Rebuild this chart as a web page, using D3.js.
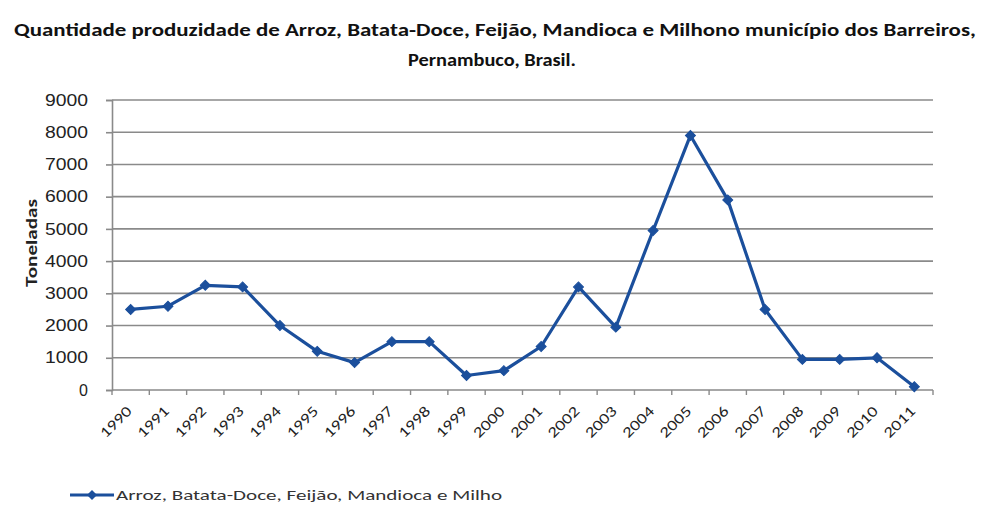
<!DOCTYPE html>
<html>
<head>
<meta charset="utf-8">
<script src="https://cdn.jsdelivr.net/npm/d3@7/dist/d3.min.js"></script>
<style>
  html, body { margin: 0; padding: 0; background: #fff; }
  svg { display: block; font-family: Carlito, "Liberation Sans Narrow", "Liberation Sans", sans-serif; }
</style>
</head>
<body>
<svg id="chart" width="985" height="508"></svg>
<script>
// --- data ---
const years = ["1990","1991","1992","1993","1994","1995","1996","1997","1998","1999","2000",
               "2001","2002","2003","2004","2005","2006","2007","2008","2009","2010","2011"];
const toneladas = [2500, 2600, 3250, 3200, 2000, 1200, 850, 1500, 1500, 450, 600,
                   1350, 3200, 1950, 4950, 7900, 5900, 2500, 950, 950, 1000, 100];
const yTicks = [0, 1000, 2000, 3000, 4000, 5000, 6000, 7000, 8000, 9000];
const titleLines = [
  "Quantidade produzidade de Arroz, Batata-Doce, Feijão, Mandioca e Milhono município dos Barreiros,",
  "Pernambuco, Brasil."
];
const seriesName = "Arroz, Batata-Doce, Feijão, Mandioca e Milho";

const svg = d3.select("#chart");
const margin = { top: 100, right: 52, bottom: 118, left: 112 };
const W = 985, H = 508;
const lineColor = "#1b4f9c";
const gridColor = "#8a8a8a";

const x = d3.scaleBand().domain(years).range([margin.left, W - margin.right]);
const y = d3.scaleLinear().domain([0, 9000]).range([H - margin.bottom, margin.top]);

// title
svg.append("g").selectAll("text")
  .data(titleLines)
  .enter().append("text")
  .attr("x", (d, i) => i === 0 ? 495 : 492)
  .attr("y", (d, i) => 36 + i * 30)
  .attr("text-anchor", "middle")
  .attr("textLength", (d, i) => i === 0 ? 962 : 168)
  .attr("lengthAdjust", "spacingAndGlyphs")
  .style("font-weight", "bold")
  .style("font-size", "17px")
  .style("fill", "#111")
  .text(d => d);

// gridlines
svg.append("g").selectAll("line")
  .data(yTicks.filter(d => d > 0))
  .enter().append("line")
  .attr("x1", margin.left).attr("x2", W - margin.right)
  .attr("y1", d => y(d)).attr("y2", d => y(d))
  .attr("stroke", gridColor).attr("stroke-width", 1.6);

// y axis
const yAxis = svg.append("g")
  .attr("transform", `translate(${margin.left},0)`)
  .call(d3.axisLeft(y).tickValues(yTicks).tickSize(6).tickPadding(18).tickFormat(d3.format("d")));
yAxis.select(".domain").attr("stroke", gridColor).attr("stroke-width", 1.6);
yAxis.selectAll(".tick line").attr("stroke", gridColor).attr("stroke-width", 1.6);
yAxis.selectAll("text").style("font-size", "16px").style("fill", "#222")
  .attr("textLength", d => d === 0 ? null : 43).attr("lengthAdjust", "spacingAndGlyphs");

// x axis: ticks at category boundaries
const xAxisG = svg.append("g").attr("transform", `translate(0,${y(0)})`);
xAxisG.append("line")
  .attr("x1", margin.left).attr("x2", W - margin.right)
  .attr("stroke", gridColor).attr("stroke-width", 1.6);
xAxisG.selectAll(".bt")
  .data(years.concat(["end"]))
  .enter().append("line")
  .attr("class", "bt")
  .attr("x1", (d, i) => margin.left + i * x.step())
  .attr("x2", (d, i) => margin.left + i * x.step())
  .attr("y1", 0).attr("y2", 5)
  .attr("stroke", gridColor).attr("stroke-width", 1.4);
xAxisG.selectAll(".yl")
  .data(years)
  .enter().append("text")
  .attr("class", "yl")
  .attr("text-anchor", "end")
  .attr("transform", d => `translate(${x(d) + x.bandwidth() / 2 + 2},${22}) rotate(-45)`)
  .attr("textLength", 38).attr("lengthAdjust", "spacingAndGlyphs")
  .style("font-size", "15px")
  .style("fill", "#222")
  .text(d => d);

// y label
svg.append("text")
  .attr("transform", `translate(37,${y(4500) - 2}) rotate(-90)`)
  .attr("text-anchor", "middle")
  .attr("textLength", 88).attr("lengthAdjust", "spacingAndGlyphs")
  .style("font-weight", "bold")
  .style("font-size", "16px")
  .style("fill", "#222")
  .text("Toneladas");

// line + markers
const pts = years.map((d, i) => ({ year: d, v: toneladas[i] }));
const cx = d => x(d.year) + x.bandwidth() / 2;
const line = d3.line().x(cx).y(d => y(d.v));
svg.append("path")
  .datum(pts)
  .attr("d", line)
  .attr("fill", "none")
  .attr("stroke", lineColor)
  .attr("stroke-width", 3.2)
  .attr("stroke-linejoin", "round");

const diamond = d3.symbol().type(d3.symbolSquare).size(50);
svg.append("g").selectAll("path")
  .data(pts)
  .enter().append("path")
  .attr("d", diamond)
  .attr("transform", d => `translate(${cx(d)},${y(d.v)}) rotate(45)`)
  .attr("fill", lineColor)
  .attr("stroke", lineColor);

// legend
const lg = svg.append("g").attr("transform", "translate(70,495)");
lg.append("line").attr("x1", 0).attr("x2", 44).attr("y1", 0).attr("y2", 0)
  .attr("stroke", lineColor).attr("stroke-width", 3.2);
lg.append("path").attr("d", diamond).attr("transform", "translate(22,0) rotate(45)")
  .attr("fill", lineColor);
lg.append("text")
  .attr("x", 46).attr("y", 5)
  .attr("textLength", 386).attr("lengthAdjust", "spacingAndGlyphs")
  .style("font-size", "15px")
  .style("fill", "#333")
  .text(seriesName);
</script>
</body>
</html>
